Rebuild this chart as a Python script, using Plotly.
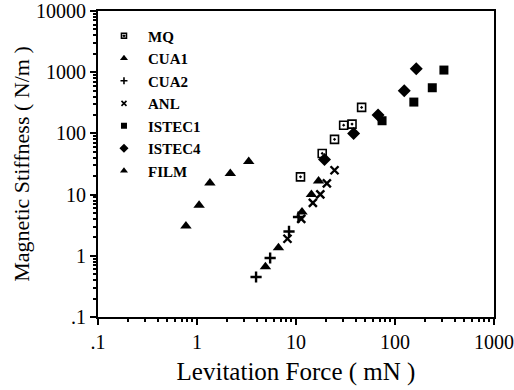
import plotly.graph_objects as go

# Data (Levitation Force mN, Magnetic Stiffness N/m)
mq_x = [11.1, 18.4, 24.5, 30.3, 36.8, 46.0]
mq_y = [19.5, 47.0, 80.0, 136.0, 142.0, 266.0]

cua1_x = [4.91, 6.65, 11.5, 14.3, 16.9]
cua1_y = [0.66, 1.36, 5.2, 10.0, 16.7]

cua2_x = [3.95, 5.48, 8.5, 10.6]
cua2_y = [0.45, 0.92, 2.5, 4.3]

anl_x = [8.2, 11.3, 14.8, 17.6, 20.5, 24.5]
anl_y = [1.9, 4.0, 7.3, 10.1, 15.2, 25.0]

istec1_x = [74.0, 155.0, 238.0, 312.0]
istec1_y = [161.0, 325.0, 557.0, 1084.0]

istec4_x = [19.4, 38.2, 67.4, 124.0, 164.0]
istec4_y = [37.5, 100.0, 199.0, 497.0, 1140.0]

film_x = [0.773, 1.05, 1.35, 2.17, 3.33]
film_y = [3.08, 6.7, 15.4, 22.1, 34.7]

x_tickvals = [0.1, 1, 10, 100, 1000]
x_ticktext = [".1", "1", "10", "100", "1000"]
y_tickvals = [0.1, 1, 10, 100, 1000, 10000]
y_ticktext = [".1", "1", "10", "100", "1000", "10000"]

series = [
    ("MQ", mq_x, mq_y, "square-open-dot", 8, 1.6),
    ("CUA1", cua1_x, cua1_y, "triangle-up", 10, 0),
    ("CUA2", cua2_x, cua2_y, "cross-thin-open", 8, 2.4),
    ("ANL", anl_x, anl_y, "x-thin-open", 8, 2.4),
    ("ISTEC1", istec1_x, istec1_y, "square", 9, 0),
    ("ISTEC4", istec4_x, istec4_y, "diamond", 10, 0),
    ("FILM", film_x, film_y, "triangle-up", 10, 0),
]

fig = go.Figure()
for name, xs, ys, sym, size, lw in series:
    fig.add_trace(go.Scatter(
        x=xs, y=ys, mode="markers", name=name, showlegend=False,
        marker=dict(symbol=sym, size=size, color="black",
                    line=dict(color="black", width=lw)),
    ))
for name, xs, ys, sym, size, lw in series:
    fig.add_trace(go.Scatter(
        x=[None], y=[None], mode="markers", name=name,
        marker=dict(symbol=sym, size=max(size - 3, 5), color="black",
                    line=dict(color="black", width=min(lw, 1.6))),
    ))

minor_vals = [k * 10.0 ** e for e in range(-1, 4) for k in range(2, 10)]

font_family = "Liberation Serif"
fig.update_layout(
    width=514, height=390,
    margin=dict(l=98, r=20, t=11, b=73),
    paper_bgcolor="white", plot_bgcolor="white",
    font=dict(family=font_family, color="black", size=18),
    legend=dict(
        x=0.005, y=0.972, xanchor="left", yanchor="top",
        bgcolor="rgba(0,0,0,0)",
        font=dict(family=font_family, size=15, color="black", weight="bold"),
        itemwidth=38,
    ),
    xaxis=dict(
        type="log", range=[-1, 3], automargin=False,
        tickvals=x_tickvals, ticktext=x_ticktext,
        ticks="outside", ticklen=6, tickwidth=1.5, tickcolor="black",
        showline=True, linecolor="black", linewidth=2, mirror=True,
        showgrid=False, zeroline=False,
        minor=dict(tickvals=minor_vals, ticks="outside", ticklen=3,
                   tickcolor="black", showgrid=False),
        tickfont=dict(size=20),
        title=dict(text="Levitation Force ( mN )", font=dict(size=25), standoff=10),
    ),
    yaxis=dict(
        type="log", range=[-1, 4], automargin=False,
        tickvals=y_tickvals, ticktext=y_ticktext,
        ticks="outside", ticklen=6, tickwidth=1.5, tickcolor="black",
        showline=True, linecolor="black", linewidth=2, mirror=True,
        showgrid=False, zeroline=False,
        minor=dict(tickvals=minor_vals, ticks="outside",
                   ticklen=3, tickcolor="black", showgrid=False),
        tickfont=dict(size=20),
        title=dict(text="Magnetic Stiffness ( N/m )", font=dict(size=22), standoff=0),
    ),
)

fig.write_html("out.html")
